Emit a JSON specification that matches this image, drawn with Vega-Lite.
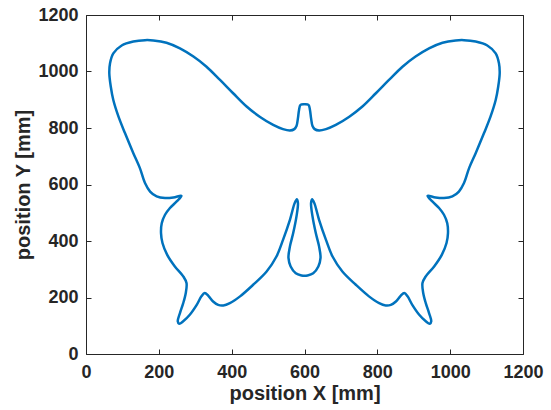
{
  "$schema": "https://vega.github.io/schema/vega-lite/v6.json",
  "width": 437,
  "height": 339,
  "autosize": {"type": "none"},
  "padding": {"left": 86, "top": 15, "right": 28, "bottom": 56},
  "background": "white",
  "config": {
    "view": {"stroke": null},
    "axis": {
      "grid": false,
      "domainColor": "#262626",
      "tickColor": "#262626",
      "tickSize": -5,
      "labelFont": "Liberation Sans",
      "labelFontWeight": "bold",
      "labelFontSize": 18,
      "labelColor": "#262626",
      "labelFlush": false,
      "labelOverlap": false,
      "titleFont": "Liberation Sans",
      "titleFontWeight": "bold",
      "titleFontSize": 20,
      "titleColor": "#262626"
    }
  },
  "data": {"values": [
    {"i":0,"x":600,"y":884},{"i":1,"x":589,"y":882},{"i":2,"x":585,"y":864},{"i":3,"x":582,"y":835},{"i":4,"x":578,"y":807},{"i":5,"x":572,"y":796},{"i":6,"x":560,"y":791},{"i":7,"x":541,"y":796},{"i":8,"x":514,"y":811},{"i":9,"x":477,"y":840},
    {"i":10,"x":441,"y":876},{"i":11,"x":404,"y":923},{"i":12,"x":368,"y":970},{"i":13,"x":331,"y":1017},{"i":14,"x":295,"y":1053},{"i":15,"x":258,"y":1082},{"i":16,"x":221,"y":1102},{"i":17,"x":185,"y":1110},{"i":18,"x":162,"y":1111},{"i":19,"x":130,"y":1106},
    {"i":20,"x":98,"y":1092},{"i":21,"x":75,"y":1064},{"i":22,"x":66,"y":1029},{"i":23,"x":64,"y":994},{"i":24,"x":68,"y":947},{"i":25,"x":75,"y":899},{"i":26,"x":89,"y":841},{"i":27,"x":107,"y":782},{"i":28,"x":130,"y":711},{"i":29,"x":148,"y":658},
    {"i":30,"x":162,"y":605},{"i":31,"x":176,"y":575},{"i":32,"x":194,"y":558},{"i":33,"x":217,"y":552},{"i":34,"x":240,"y":554},{"i":35,"x":262,"y":560},{"i":36,"x":249,"y":540},{"i":37,"x":230,"y":516},{"i":38,"x":217,"y":493},{"i":39,"x":208,"y":463},
    {"i":40,"x":206,"y":428},{"i":41,"x":210,"y":393},{"i":42,"x":223,"y":351},{"i":43,"x":244,"y":310},{"i":44,"x":267,"y":275},{"i":45,"x":276,"y":251},{"i":46,"x":274,"y":216},{"i":47,"x":267,"y":180},{"i":48,"x":258,"y":145},{"i":49,"x":252,"y":116},
    {"i":50,"x":256,"y":107},{"i":51,"x":267,"y":116},{"i":52,"x":285,"y":139},{"i":53,"x":304,"y":174},{"i":54,"x":317,"y":204},{"i":55,"x":326,"y":216},{"i":56,"x":336,"y":206},{"i":57,"x":349,"y":186},{"i":58,"x":363,"y":174},{"i":59,"x":377,"y":172},
    {"i":60,"x":395,"y":180},{"i":61,"x":423,"y":204},{"i":62,"x":459,"y":245},{"i":63,"x":496,"y":292},{"i":64,"x":523,"y":345},{"i":65,"x":541,"y":404},{"i":66,"x":560,"y":475},{"i":67,"x":573,"y":534},{"i":68,"x":579,"y":548},{"i":69,"x":582,"y":534},
    {"i":70,"x":578,"y":487},{"i":71,"x":569,"y":428},{"i":72,"x":560,"y":381},{"i":73,"x":556,"y":340},{"i":74,"x":562,"y":310},{"i":75,"x":576,"y":286},{"i":76,"x":592,"y":278},{"i":77,"x":600,"y":277},
    {"i":78,"x":608,"y":278},{"i":79,"x":624,"y":286},{"i":80,"x":638,"y":310},{"i":81,"x":644,"y":340},{"i":82,"x":640,"y":381},{"i":83,"x":631,"y":428},{"i":84,"x":622,"y":487},{"i":85,"x":618,"y":534},{"i":86,"x":621,"y":548},{"i":87,"x":627,"y":534},
    {"i":88,"x":640,"y":475},{"i":89,"x":659,"y":404},{"i":90,"x":677,"y":345},{"i":91,"x":704,"y":292},{"i":92,"x":741,"y":245},{"i":93,"x":777,"y":204},{"i":94,"x":805,"y":180},{"i":95,"x":823,"y":172},{"i":96,"x":837,"y":174},{"i":97,"x":851,"y":186},
    {"i":98,"x":864,"y":206},{"i":99,"x":874,"y":216},{"i":100,"x":883,"y":204},{"i":101,"x":896,"y":174},{"i":102,"x":915,"y":139},{"i":103,"x":933,"y":116},{"i":104,"x":944,"y":107},{"i":105,"x":948,"y":116},{"i":106,"x":942,"y":145},{"i":107,"x":933,"y":180},
    {"i":108,"x":926,"y":216},{"i":109,"x":924,"y":251},{"i":110,"x":933,"y":275},{"i":111,"x":956,"y":310},{"i":112,"x":977,"y":351},{"i":113,"x":990,"y":393},{"i":114,"x":994,"y":428},{"i":115,"x":992,"y":463},{"i":116,"x":983,"y":493},{"i":117,"x":970,"y":516},
    {"i":118,"x":951,"y":540},{"i":119,"x":938,"y":560},{"i":120,"x":960,"y":554},{"i":121,"x":983,"y":552},{"i":122,"x":1006,"y":558},{"i":123,"x":1024,"y":575},{"i":124,"x":1038,"y":605},{"i":125,"x":1052,"y":658},{"i":126,"x":1070,"y":711},{"i":127,"x":1093,"y":782},
    {"i":128,"x":1111,"y":841},{"i":129,"x":1125,"y":899},{"i":130,"x":1132,"y":947},{"i":131,"x":1136,"y":994},{"i":132,"x":1134,"y":1029},{"i":133,"x":1125,"y":1064},{"i":134,"x":1102,"y":1092},{"i":135,"x":1070,"y":1106},{"i":136,"x":1038,"y":1111},{"i":137,"x":1015,"y":1110},
    {"i":138,"x":979,"y":1102},{"i":139,"x":942,"y":1082},{"i":140,"x":905,"y":1053},{"i":141,"x":869,"y":1017},{"i":142,"x":832,"y":970},{"i":143,"x":796,"y":923},{"i":144,"x":759,"y":876},{"i":145,"x":723,"y":840},{"i":146,"x":686,"y":811},{"i":147,"x":659,"y":796},
    {"i":148,"x":640,"y":791},{"i":149,"x":628,"y":796},{"i":150,"x":622,"y":807},{"i":151,"x":618,"y":835},{"i":152,"x":615,"y":864},{"i":153,"x":611,"y":882},{"i":154,"x":600,"y":884}
  ]},
  "layer": [
    {
      "mark": {"type": "line", "color": "#0072BD", "strokeWidth": 2.5, "interpolate": "catmull-rom"},
      "encoding": {
        "x": {"field": "x", "type": "quantitative", "scale": {"domain": [0, 1200], "nice": false},
              "axis": {"orient": "bottom", "values": [0,200,400,600,800,1000,1200], "format": "d", "title": "position X [mm]", "labelPadding": 14, "titlePadding": 2}},
        "y": {"field": "y", "type": "quantitative", "scale": {"domain": [0, 1200], "nice": false},
              "axis": {"orient": "left", "values": [0,200,400,600,800,1000,1200], "format": "d", "title": "position Y [mm]", "labelPadding": 13, "titlePadding": 4}},
        "order": {"field": "i", "type": "quantitative"}
      }
    },
    {
      "mark": {"type": "line", "strokeOpacity": 0},
      "encoding": {
        "x": {"field": "x", "type": "quantitative", "scale": {"domain": [0, 1200], "nice": false},
              "axis": {"orient": "top", "values": [0,200,400,600,800,1000,1200], "labels": false, "title": null}},
        "y": {"field": "y", "type": "quantitative", "scale": {"domain": [0, 1200], "nice": false},
              "axis": {"orient": "right", "values": [0,200,400,600,800,1000,1200], "labels": false, "title": null}},
        "order": {"field": "i", "type": "quantitative"}
      }
    }
  ],
  "resolve": {"axis": {"x": "independent", "y": "independent"}}
}
